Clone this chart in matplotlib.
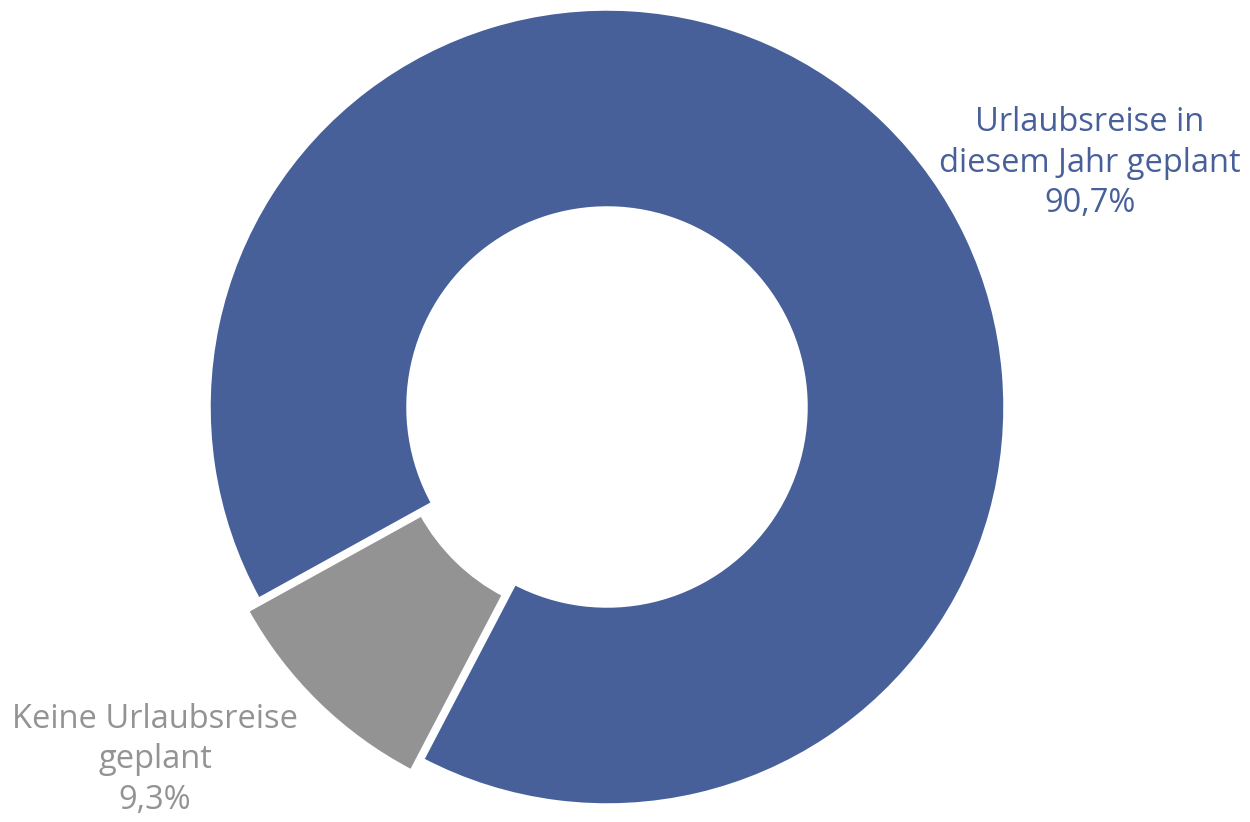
import matplotlib.pyplot as plt

# --- Data ---
labels = ['Keine Urlaubsreise\ngeplant', 'Urlaubsreise in\ndiesem Jahr geplant']
values = [9.3, 90.7]
colors = ['#939393', '#47609A']

# --- Figure ---
fig = plt.figure(figsize=(12.5, 8.22), dpi=100)
ax = fig.add_axes([0, 0, 1, 1])

radius = 398
# explode is an absolute offset in data units here (pixels)
wedges, _ = ax.pie(values, colors=colors, startangle=208.9, counterclock=True,
                   explode=[16, 0], radius=radius, center=(607, 415),
                   wedgeprops=dict(width=199, edgecolor='white', linewidth=2.5))

# pie() resets the limits, so set them afterwards (pixel-like units)
ax.set_xlim(0, 1250)
ax.set_ylim(0, 822)
ax.set_aspect('equal')
ax.axis('off')

# labels with percentages (German decimal comma)
def fmt(v):
    return f"{v:.1f}%".replace('.', ',')

ax.text(1090, 822 - 163, f"{labels[1]}\n{fmt(values[1])}", ha='center', va='center',
        fontsize=23.5, color=colors[1], family='Open Sans', linespacing=1.3)
ax.text(155, 822 - 760, f"{labels[0]}\n{fmt(values[0])}", ha='center', va='center',
        fontsize=23.5, color=colors[0], family='Open Sans', linespacing=1.3)

fig.savefig('out.png', dpi=100)
